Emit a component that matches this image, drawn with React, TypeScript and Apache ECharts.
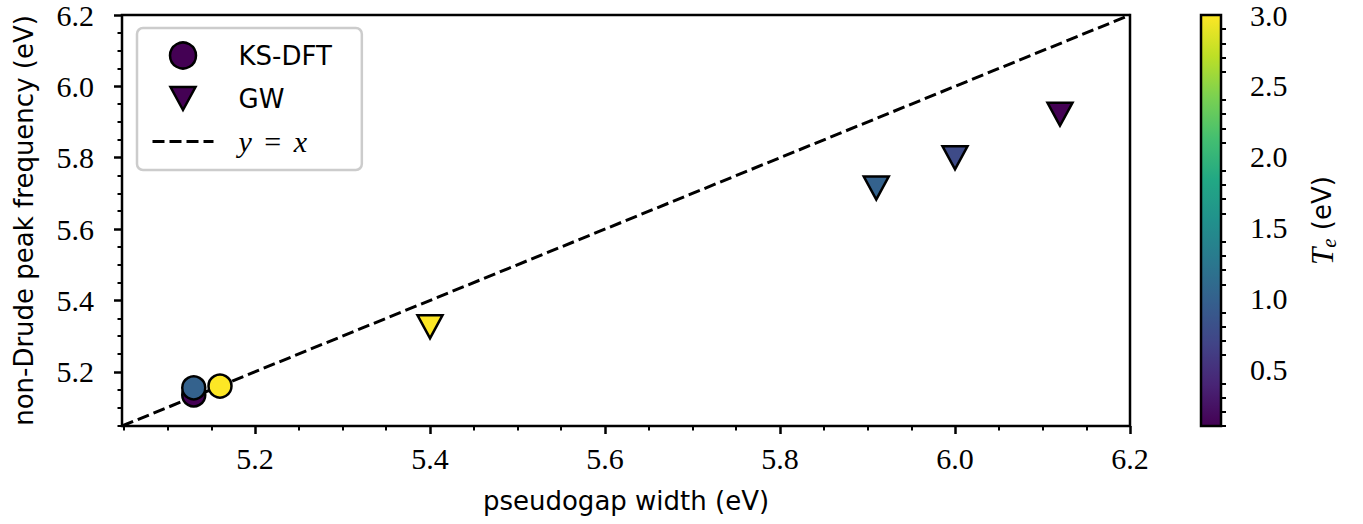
import React, { useEffect, useRef } from "react";
import * as echarts from "echarts";

// KS-DFT results: pseudogap width vs non-Drude peak frequency, coloured by electron temperature
const ksdftWidth = [5.13, 5.13, 5.16];
const ksdftPeak = [5.135, 5.155, 5.16];
const ksdftTe = [0.1, 1.0, 3.0];

// GW results
const gwWidth = [6.12, 6.0, 5.91, 5.4];
const gwPeak = [5.922, 5.8, 5.715, 5.326];
const gwTe = [0.1, 0.75, 1.0, 3.0];

// axis limits and tick labels
const axisMin = 5.048;
const axisMax = 6.2;
const majorTicks = [5.2, 5.4, 5.6, 5.8, 6.0, 6.2];
const minorTicks = [5.05, 5.1, 5.15, 5.25, 5.3, 5.35, 5.45, 5.5, 5.55, 5.65, 5.7, 5.75, 5.85, 5.9, 5.95, 6.05, 6.1, 6.15];

// colour bar range and ticks
const teMin = 0.1;
const teMax = 3.0;
const cbMajor = [0.5, 1.0, 1.5, 2.0, 2.5, 3.0];
const cbMinor = [0.1, 0.2, 0.3, 0.4, 0.6, 0.7, 0.8, 0.9, 1.1, 1.2, 1.3, 1.4, 1.6, 1.7, 1.8, 1.9, 2.1, 2.2, 2.3, 2.4, 2.6, 2.7, 2.8, 2.9];

const viridis = [
  "#440154", "#482475", "#414487", "#355f8d", "#2a788e", "#21918c",
  "#22a884", "#44bf70", "#7ad151", "#bddf26", "#fde725",
];

const SANS = "DejaVu Sans";
const SERIF = "Liberation Serif";

// downward triangle legend icon, padded to the legend item box so it keeps its shape
const triangleDownIcon = "path://M0,0M61,26M18,1.5L43,1.5L30.5,24.5Z";

export default function App() {
  const ref = useRef<HTMLDivElement>(null);

  useEffect(() => {
    if (!ref.current) return;
    const chart = echarts.init(ref.current, null, { renderer: "svg" });

    const ks = ksdftWidth.map((x, i) => [x, ksdftPeak[i], ksdftTe[i]]);
    const gw = gwWidth.map((x, i) => [x, gwPeak[i], gwTe[i]]);

    const tickLabel = {
      fontFamily: SERIF,
      fontSize: 30,
      lineHeight: 26,
      color: "#000",
    };

    const option: any = {
      animation: false,
      backgroundColor: "#fff",
      grid: [
        {
          left: 122, right: 233, top: 15, bottom: 98,
          show: true, borderColor: "#000", borderWidth: 2.5,
          backgroundColor: "transparent",
          outerBoundsMode: "none",
        },
        {
          left: 1201, right: 142, top: 15, bottom: 98,
          outerBoundsMode: "none",
        },
      ],
      xAxis: [
        {
          type: "value", gridIndex: 0, position: "bottom",
          min: axisMin, max: axisMax,
          axisLine: { show: false },
          splitLine: { show: false },
          axisTick: { show: true, inside: false, length: 8, lineStyle: { color: "#000", width: 2.5 }, customValues: majorTicks },
          axisLabel: { ...tickLabel, margin: 19, customValues: majorTicks, formatter: (v: number) => v.toFixed(1) },
          name: "pseudogap width (eV)",
          nameLocation: "middle",
          nameGap: 62,
          nameMoveOverlap: false,
          nameTextStyle: { fontFamily: SANS, fontSize: 26, color: "#000" },
        },
        {
          type: "value", gridIndex: 0, position: "bottom",
          min: axisMin, max: axisMax,
          axisLine: { show: false },
          splitLine: { show: false },
          axisLabel: { show: false },
          axisTick: { show: true, inside: false, length: 4.5, lineStyle: { color: "#000", width: 2 }, customValues: minorTicks },
        },
        {
          type: "value", gridIndex: 1, min: 0, max: 1, show: false,
        },
      ],
      yAxis: [
        {
          type: "value", gridIndex: 0, position: "left",
          min: axisMin, max: axisMax,
          axisLine: { show: false },
          splitLine: { show: false },
          axisTick: { show: true, inside: false, length: 8, lineStyle: { color: "#000", width: 2.5 }, customValues: majorTicks },
          axisLabel: { ...tickLabel, margin: 28, customValues: majorTicks, formatter: (v: number) => v.toFixed(1) },
          name: "non-Drude peak frequency (eV)",
          nameLocation: "middle",
          nameRotate: 90,
          nameGap: 85,
          nameMoveOverlap: false,
          nameTextStyle: { fontFamily: SANS, fontSize: 26, color: "#000" },
        },
        {
          type: "value", gridIndex: 0, position: "left",
          min: axisMin, max: axisMax,
          axisLine: { show: false },
          splitLine: { show: false },
          axisLabel: { show: false },
          axisTick: { show: true, inside: false, length: 4.5, lineStyle: { color: "#000", width: 2 }, customValues: minorTicks },
        },
        {
          type: "value", gridIndex: 1, position: "right",
          min: teMin, max: teMax,
          axisLine: { show: false },
          splitLine: { show: false },
          axisTick: { show: true, inside: false, length: 9, lineStyle: { color: "#000", width: 2.5 }, customValues: cbMajor },
          axisLabel: { ...tickLabel, margin: 29, customValues: cbMajor, formatter: (v: number) => v.toFixed(1) },
          name: "{t|T}{e|e}{s| (eV)}",
          nameLocation: "middle",
          nameRotate: 90,
          nameGap: 84,
          nameMoveOverlap: false,
          nameTextStyle: {
            color: "#000",
            rich: {
              t: { fontFamily: SERIF, fontStyle: "italic", fontSize: 31, lineHeight: 34, color: "#000" },
              e: { fontFamily: SERIF, fontStyle: "italic", fontSize: 21, lineHeight: 16, verticalAlign: "bottom", color: "#000" },
              s: { fontFamily: SANS, fontSize: 26, lineHeight: 34, color: "#000" },
            },
          },
        },
        {
          type: "value", gridIndex: 1, position: "right",
          min: teMin, max: teMax,
          axisLine: { show: false },
          splitLine: { show: false },
          axisLabel: { show: false },
          axisTick: { show: true, inside: false, length: 5, lineStyle: { color: "#000", width: 2 }, customValues: cbMinor },
        },
      ],
      visualMap: {
        type: "continuous",
        show: false,
        seriesIndex: [0, 1],
        dimension: 2,
        min: teMin,
        max: teMax,
        inRange: { color: viridis },
      },
      legend: {
        orient: "vertical",
        left: 137,
        top: 28,
        padding: [12, 0, 13, 14],
        itemWidth: 61,
        itemHeight: 26,
        itemGap: 12,
        backgroundColor: "#fff",
        borderColor: "#cccccc",
        borderWidth: 2.5,
        borderRadius: 6,
        textStyle: {
          fontFamily: SANS,
          fontSize: 26,
          lineHeight: 31,
          color: "#000",
          padding: [0, 30, 0, 20],
          rich: {
            i: { fontFamily: SERIF, fontStyle: "italic", fontSize: 30, lineHeight: 31, color: "#000" },
            n: { fontFamily: SERIF, fontSize: 30, lineHeight: 31, color: "#000", padding: [0, 5, 0, 5] },
          },
        },
        formatter: (name: string) => (name === "y = x" ? "{i|y}{n| = }{i|x}" : name),
        data: [
          { name: "KS-DFT", icon: "circle", itemStyle: { color: viridis[0], borderColor: "#000", borderWidth: 2.5 } },
          { name: "GW", icon: triangleDownIcon, itemStyle: { color: viridis[0], borderColor: "#000", borderWidth: 2.5 } },
          {
            name: "y = x",
            itemStyle: { color: "rgba(0,0,0,0)", borderColor: "rgba(0,0,0,0)", borderWidth: 0 },
            lineStyle: { color: "#000", width: 3, type: [12, 5] },
          },
        ],
      },
      series: [
        {
          name: "KS-DFT",
          type: "scatter",
          xAxisIndex: 0, yAxisIndex: 0,
          symbol: "circle",
          symbolSize: 23,
          itemStyle: { color: viridis[0], borderColor: "#000", borderWidth: 2.5, opacity: 1 },
          data: ks,
          z: 5,
        },
        {
          name: "GW",
          type: "scatter",
          xAxisIndex: 0, yAxisIndex: 0,
          symbol: "triangle",
          symbolRotate: 180,
          symbolSize: [25, 23],
          itemStyle: { color: viridis[0], borderColor: "#000", borderWidth: 2.5, opacity: 1 },
          data: gw,
          z: 5,
        },
        {
          name: "y = x",
          type: "line",
          xAxisIndex: 0, yAxisIndex: 0,
          symbol: "none",
          lineStyle: { color: "#000", width: 3, type: [12, 5] },
          data: [[axisMin, axisMin], [axisMax, axisMax]],
          z: 3,
        },
        {
          // colour bar body drawn on its own axes
          type: "custom",
          xAxisIndex: 2, yAxisIndex: 2,
          silent: true,
          clip: false,
          renderItem: (_params: any, api: any) => {
            const p0 = api.coord([0, teMin]);
            const p1 = api.coord([1, teMax]);
            return {
              type: "rect",
              shape: { x: p0[0], y: p1[1], width: p1[0] - p0[0], height: p0[1] - p1[1] },
              style: {
                fill: new echarts.graphic.LinearGradient(
                  0, 1, 0, 0,
                  viridis.map((c, i) => ({ offset: i / (viridis.length - 1), color: c }))
                ),
                stroke: "#000",
                lineWidth: 2.5,
              },
            };
          },
          data: [[0, teMin]],
        },
      ],
    };

    chart.setOption(option);
    return () => chart.dispose();
  }, []);

  return (
    <div
      ref={ref}
      style={{ position: "fixed", left: 0, top: 0, width: 1363, height: 524, background: "#fff" }}
    />
  );
}
